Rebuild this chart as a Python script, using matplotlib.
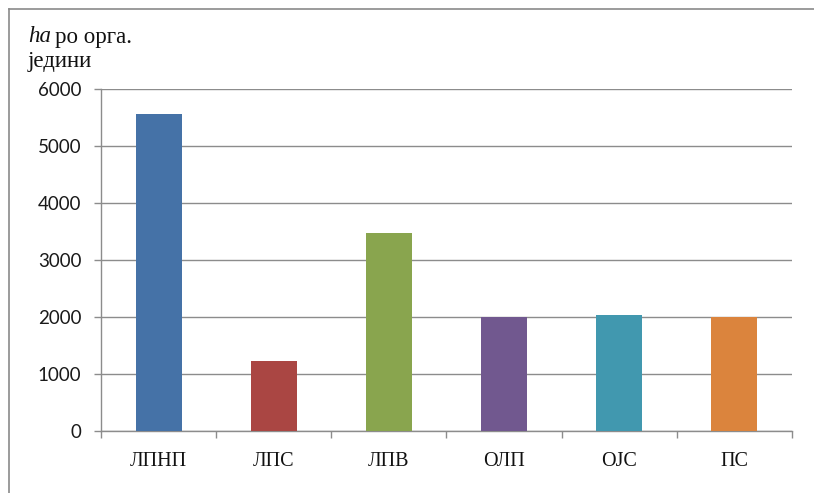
import matplotlib
matplotlib.use("Agg")
import matplotlib.pyplot as plt
from matplotlib.lines import Line2D
import numpy as np

categories = ["ЛПНП", "ЛПС", "ЛПВ", "ОЛП", "ОЈС", "ПС"]
values = [5560, 1235, 3465, 1995, 2030, 1995]
colors = ["#4572A7", "#AA4643", "#89A54E", "#71588F", "#4198AF", "#DB843D"]
yticks = [0, 1000, 2000, 3000, 4000, 5000, 6000]

serif = ["Liberation Serif", "DejaVu Serif"]
sans = ["Lato", "DejaVu Sans"]

fig = plt.figure(figsize=(8.14, 4.93), dpi=100)
ax = fig.add_axes([101/814, 1-431/493, (792-101)/814, (431-89)/493])

x = np.arange(len(categories))
ax.bar(x, values, width=0.4, color=colors, zorder=3)

ax.set_xlim(-0.5, len(categories) - 0.5)
ax.set_ylim(0, 6000)
ax.set_yticks(yticks)
ax.set_yticklabels([str(t) for t in yticks], fontfamily=sans, fontsize=13.5, color="#1a1a1a")
ax.set_xticks(x)
ax.set_xticklabels(categories, fontfamily=serif, fontsize=14.5, color="#111111")
ax.set_xticks(np.arange(-0.5, len(categories)), minor=True)

ax.grid(axis="y", color="#8c8c8c", linewidth=1.0, zorder=0)
for s in ["top", "right"]:
    ax.spines[s].set_visible(False)
for s in ["left", "bottom"]:
    ax.spines[s].set_color("#8c8c8c")
    ax.spines[s].set_linewidth(1.0)

ax.tick_params(axis="y", direction="out", length=5, width=1, color="#8c8c8c", pad=9)
ax.tick_params(axis="x", which="major", length=0, pad=15)
ax.tick_params(axis="x", which="minor", direction="out", length=5, width=1, color="#8c8c8c")

# outer border (left and top)
fig.add_artist(Line2D([9/814, 9/814], [0, 1-9/493], transform=fig.transFigure, color="#8a8a8a", lw=1.2))
fig.add_artist(Line2D([9/814, 1], [1-9/493, 1-9/493], transform=fig.transFigure, color="#8a8a8a", lw=1.2))

# unit label
t1 = fig.text(28/814, 1-37/493, "ha", fontfamily=serif, fontstyle="italic", fontsize=16.5, va="center", ha="left", color="#111111")
fig.canvas.draw()
bb = t1.get_window_extent(renderer=fig.canvas.get_renderer())
fig.text((bb.x1 + 4)/814, 1-37/493, "ро орга.", fontfamily=serif, fontsize=16.5, va="center", ha="left", color="#111111")
fig.text(28/814, 1-62/493, "једини", fontfamily=serif, fontsize=16.5, va="center", ha="left", color="#111111")

fig.savefig("out.png", dpi=100)
